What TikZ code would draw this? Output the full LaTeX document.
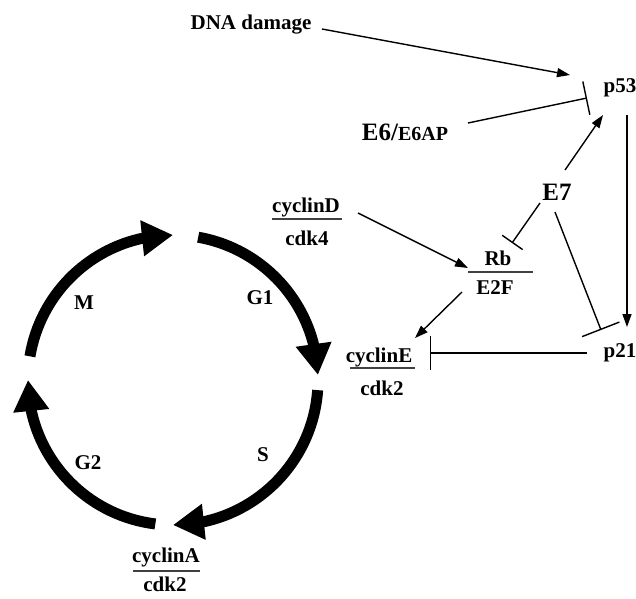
\documentclass[tikz,border=0pt]{standalone}
\usepackage{fontspec}
\setmainfont{Liberation Serif}
\usetikzlibrary{arrows.meta,bending}
\begin{document}
\begin{tikzpicture}[x=1pt,y=-1pt,
  lbl/.style={inner sep=0pt,font=\fontsize{21}{23}\selectfont\bfseries},
  big/.style={inner sep=0pt,font=\fontsize{25}{27}\selectfont\bfseries},
  fracline/.style={line width=1.4pt,black!75},
  act/.style={line width=1.4pt,-{Triangle[length=13pt,width=9pt]}},
  inh/.style={line width=1.4pt,-{Bar[width=#1]}},
  cyc/.style={line width=11pt,-{Triangle[length=31pt,width=34pt,flex]}}]
\useasboundingbox (0,0) rectangle (636,598);
% cell cycle
\coordinate (C) at (173,380);
\draw[cyc] (C) ++(-80:145) arc[start angle=-80,end angle=-2,radius=145];
\draw[cyc] (C) ++(4:145) arc[start angle=4,end angle=90,radius=145];
\draw[cyc] (C) ++(97:145) arc[start angle=97,end angle=180,radius=145];
\draw[cyc] (C) ++(189.4:145) arc[start angle=189.4,end angle=270,radius=145];
\node[lbl] (M) at (84,303) {M};
\node[lbl] (G1) at (260,298) {G1};
\node[lbl] (G2) at (88,463) {G2};
\node[lbl] (S) at (263,455) {S};
% labels
\node[lbl] (dna) at (251,25) {DNA damage};
\node[lbl] (p53) at (620,88) {p53};
\node[lbl] (p21) at (620,353) {p21};
\node[big] (e6) at (405,132) {E6/{\fontsize{20}{22}\selectfont E6AP}};
\node[big] (e7) at (557,192) {E7};
\node[lbl] (cycD) at (306,207) {cyclinD};
\node[lbl] (cdk4) at (307,238) {cdk4};
\draw[fracline] (272,219) -- (342,219);
\node[lbl] (rb) at (498,258) {Rb};
\node[lbl] (e2f) at (495,288) {E2F};
\draw[fracline] (468,272) -- (533,272);
\node[lbl] (cycE) at (379,357) {cyclinE};
\node[lbl] (cdk2e) at (382,388) {cdk2};
\draw[fracline] (350,368) -- (415,368);
\node[lbl] (cycA) at (166,557) {cyclinA};
\node[lbl] (cdk2a) at (165,584) {cdk2};
\draw[fracline] (133,571) -- (200,571);
% connectors
\draw[act] ([shift={(71,4)}]dna.center) -- ([shift={(-50,-13)}]p53.center);
\draw[inh=34pt] ([shift={(63,-9)}]e6.center) -- ([shift={(-33,10)}]p53.center);
\draw[act] ([shift={(8,-22)}]e7.center) -- ([shift={(-17,27)}]p53.center);
\draw[act] ([shift={(7,27)}]p53.center) -- ([shift={(7,-26)}]p21.center);
\draw[inh=25pt] ([shift={(-17,11)}]e7.center) -- ([shift={(14,-15)}]rb.center);
\draw[inh=40pt] ([shift={(-2,20)}]e7.center) -- ([shift={(-19,-23)}]p21.center);
\draw[act] ([shift={(52,6)}]cycD.center) -- ([shift={(-30,10)}]rb.center);
\draw[act] ([shift={(-33,4)}]e2f.center) -- ([shift={(36,-19)}]cycE.center);
\draw[inh=34pt] ([shift={(-33,0)}]p21.center) -- ([shift={(51,-4)}]cycE.center);
\end{tikzpicture}
\end{document}
